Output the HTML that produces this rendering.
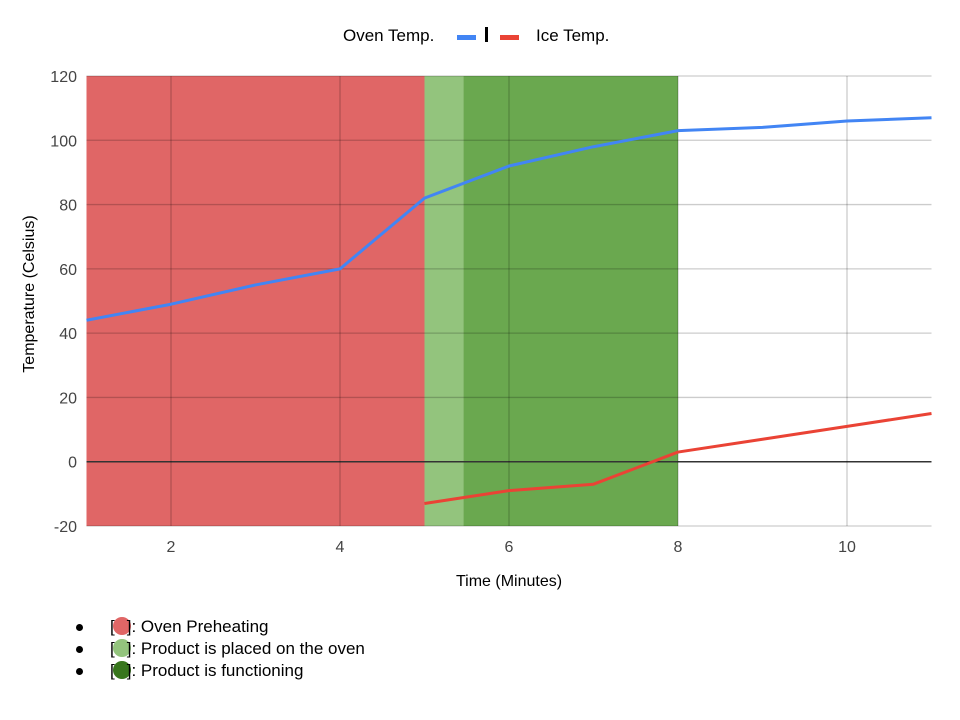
<!DOCTYPE html>
<html><head><meta charset="utf-8"><style>
body{margin:0;background:#fff;width:960px;height:720px;overflow:hidden;font-family:"Liberation Sans",Arial,sans-serif}
svg text{font-family:"Liberation Sans",Arial,sans-serif}
.notes{position:absolute;left:70px;top:616px;font-size:17px;color:#000;line-height:22px}
.notes div{position:relative;padding-left:40px;height:22px}
.notes .b{position:absolute;left:6px;top:8px;width:7px;height:7px;border-radius:50%;background:#000}
.dot{display:inline-block;width:18px;height:18px;border-radius:50%;vertical-align:-3px;margin:0 -4px 0 -2px}
</style></head><body>
<svg id="chart" width="960" height="600" style="position:absolute;left:0;top:0"></svg>
<div class="notes">
<div><span class="b"></span>[<span class="dot" style="background:#e06666"></span>]: Oven Preheating</div>
<div><span class="b"></span>[<span class="dot" style="background:#93c47d"></span>]: Product is placed on the oven</div>
<div><span class="b"></span>[<span class="dot" style="background:#38761d"></span>]: Product is functioning</div>
</div>
<script>
const ovenX=[1,2,3,4,5,6,7,8,9,10,11];
const ovenY=[44,49,55,60,82,92,98,103,104,106,107];
const iceX=[5,6,7,8,9,10,11];
const iceY=[-13,-9,-7,3,7,11,15];
const yTicks=[-20,0,20,40,60,80,100,120];
const xTicks=[2,4,6,8,10];
const bandStart=[1,5,5.46];
const bandEnd=[5,5.46,8];
const bandColor=['#e06666','#93c47d','#6aa84f'];
const bandName=['band-oven-preheating','band-product-placed','band-product-functioning'];
const X0=86.5,X1=931.5,Y0=526,Y1=76,xmin=1,xmax=11,ymin=-20,ymax=120;
const sx=v=>X0+(v-xmin)/(xmax-xmin)*(X1-X0);
const sy=v=>Y0-(v-ymin)/(ymax-ymin)*(Y0-Y1);
const svg=document.getElementById('chart');const NS='http://www.w3.org/2000/svg';
function mk(t,a,p){const e=document.createElementNS(NS,t);for(const k in a)e.setAttribute(k,a[k]);(p||svg).appendChild(e);return e;}
for(let i=0;i<bandStart.length;i++){
const r=mk('rect',{x:sx(bandStart[i]),y:Y1,width:sx(bandEnd[i])-sx(bandStart[i]),height:Y0-Y1,fill:bandColor[i]});

}
yTicks.forEach(v=>{
const l=mk('line',{x1:X0,x2:X1,y1:sy(v),y2:sy(v),stroke:v===0?'#333':'rgba(0,0,0,0.2)','stroke-width':v===0?1.5:1.3});


const t=mk('text',{x:77,y:sy(v)+6,'text-anchor':'end','font-size':16,fill:'#444'});t.textContent=v;

});
xTicks.forEach(v=>{
const l=mk('line',{x1:sx(v),x2:sx(v),y1:Y1,y2:Y0,stroke:'rgba(0,0,0,0.2)','stroke-width':1.3});


const t=mk('text',{x:sx(v),y:552,'text-anchor':'middle','font-size':16,fill:'#444'});t.textContent=v;

});
const pts=(xs,ys)=>xs.map((x,i)=>sx(x)+','+sy(ys[i])).join(' ');
const o=mk('polyline',{points:pts(ovenX,ovenY),fill:'none',stroke:'#4285f4','stroke-width':3,'stroke-linejoin':'round'});


const ic=mk('polyline',{points:pts(iceX,iceY),fill:'none',stroke:'#ea4335','stroke-width':3,'stroke-linejoin':'round'});


let t=mk('text',{x:509,y:586,'text-anchor':'middle','font-size':16,fill:'#000'});t.textContent='Time (Minutes)';


t=mk('text',{x:0,y:0,'text-anchor':'middle','font-size':16,fill:'#000',transform:'translate(34,294) rotate(-90)'});t.textContent='Temperature (Celsius)';


const lg=mk('g',{});


t=mk('text',{x:343,y:41,'font-size':17,fill:'#000'},lg);t.textContent='Oven Temp.';


let r=mk('rect',{x:457,y:35,width:19,height:5,fill:'#4285f4'},lg);


r=mk('rect',{x:485,y:27,width:3,height:15,fill:'#000'},lg);


r=mk('rect',{x:500,y:35,width:19,height:5,fill:'#ea4335'},lg);


t=mk('text',{x:536,y:41,'font-size':17,fill:'#000'},lg);t.textContent='Ice Temp.';


</script>
</body></html>
